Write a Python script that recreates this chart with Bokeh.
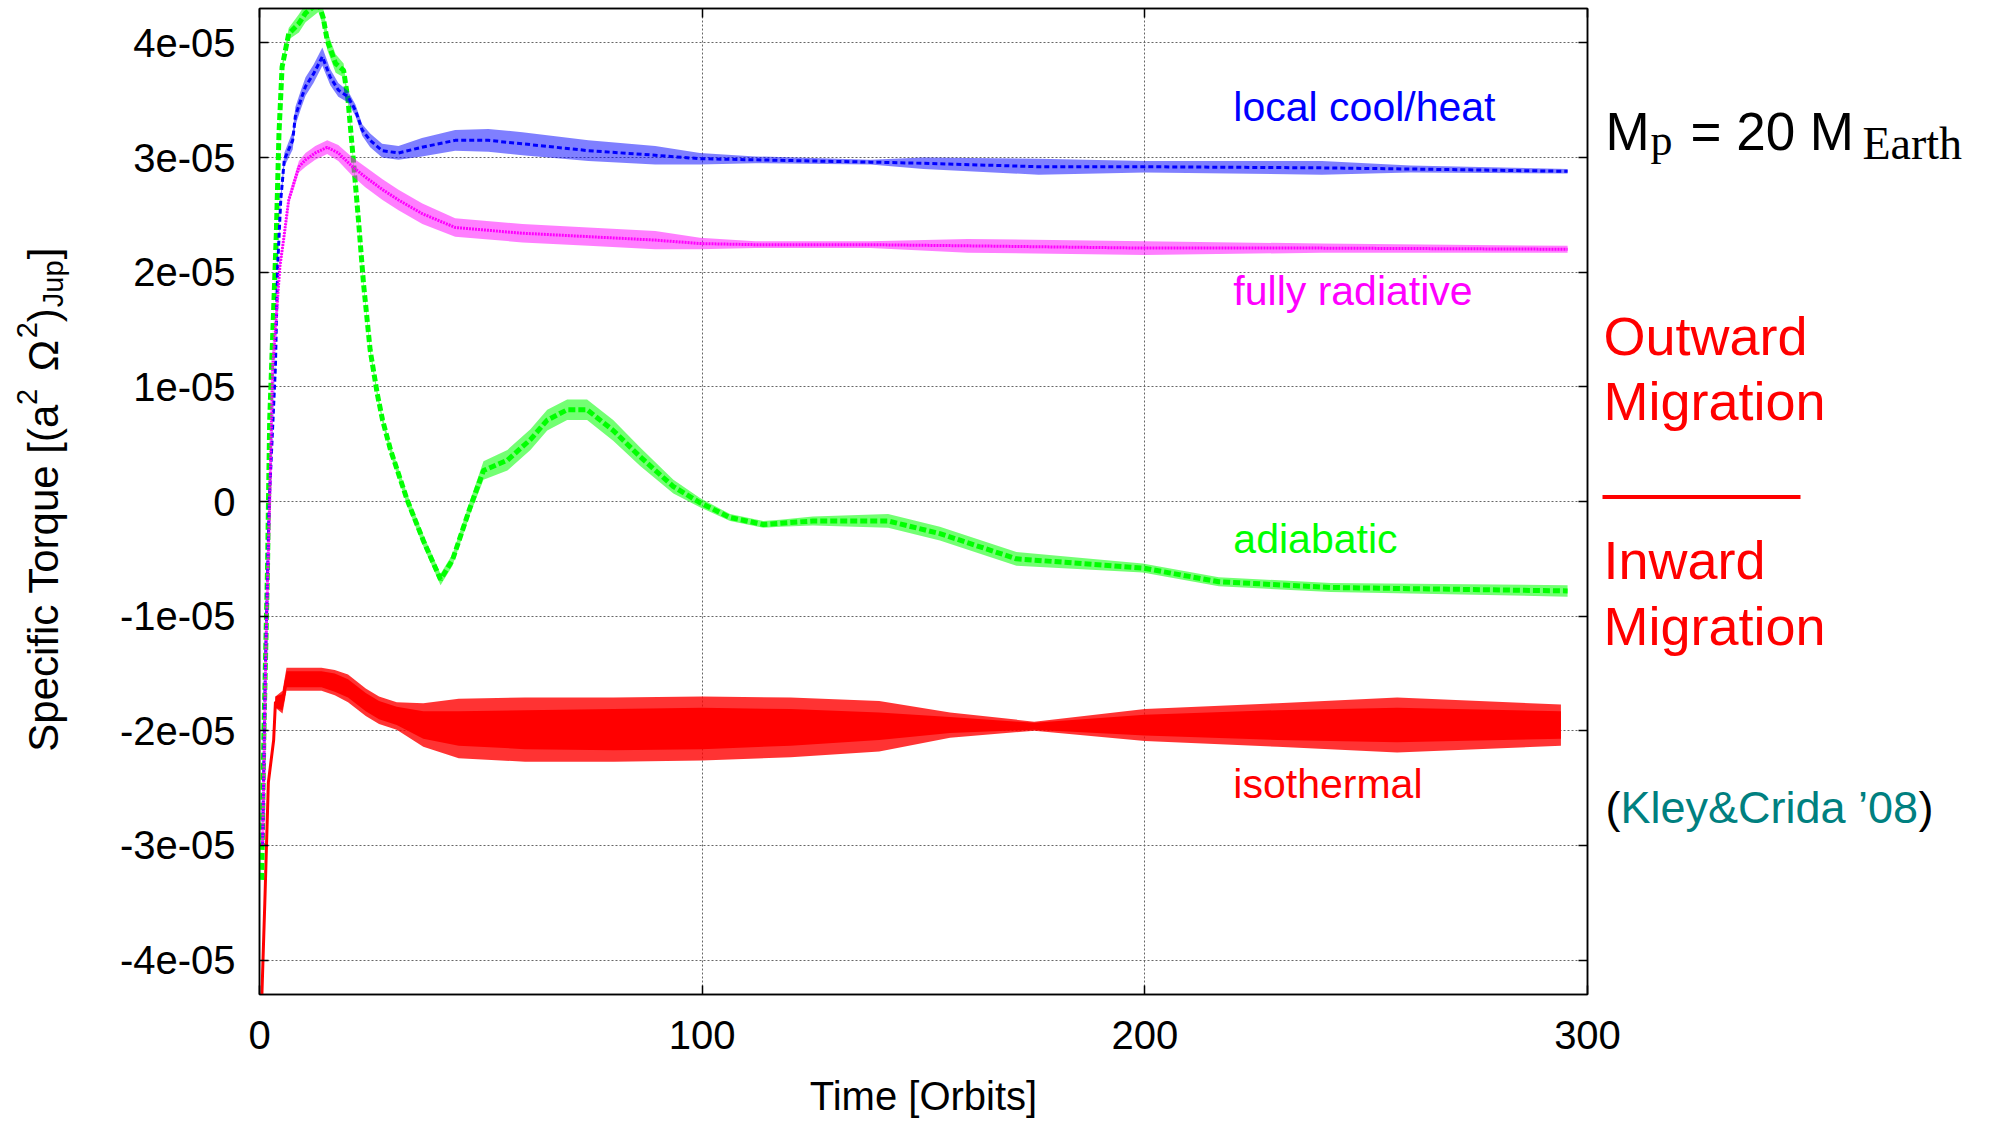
import numpy as np
from bokeh.plotting import figure
from bokeh.layouts import row
from bokeh.models import (Range1d, LinearAxis, FixedTicker, CustomJSTickFormatter, Label)
from bokeh.embed import file_html
from bokeh.resources import INLINE

# ---------------- data ----------------
x_ticks = [0, 100, 200, 300]
y_ticks = [-4e-05, -3e-05, -2e-05, -1e-05, 0.0, 1e-05, 2e-05, 3e-05, 4e-05]

# isothermal (red): time, mean torque (1e-5), half width of dense band, half width of spikes
iso_t = [0.3, 1.2, 2.0, 3.2, 3.6, 5.2, 6.1, 10, 14, 17, 20, 24, 27, 31, 37, 45, 60, 80,
         100, 120, 140, 156, 175, 200, 230, 257, 294]
iso_v = [-4.6, -3.5, -2.45, -2.08, -1.75, -1.75, -1.55, -1.55, -1.55, -1.58, -1.63, -1.75,
         -1.82, -1.87, -1.95, -1.98, -1.99, -1.99, -1.98, -1.97, -1.96, -1.95, -1.96, -1.95,
         -1.95, -1.95, -1.95]
iso_w = [0.02, 0.02, 0.03, 0.03, 0.05, 0.07, 0.07, 0.07, 0.07, 0.08, 0.08, 0.08, 0.08, 0.08,
         0.12, 0.15, 0.17, 0.18, 0.18, 0.16, 0.12, 0.07, 0.03, 0.09, 0.13, 0.15, 0.12]
iso_s = [0.02, 0.02, 0.03, 0.03, 0.05, 0.1, 0.1, 0.1, 0.1, 0.11, 0.12, 0.12, 0.12, 0.12,
         0.19, 0.26, 0.28, 0.28, 0.28, 0.26, 0.22, 0.11, 0.04, 0.14, 0.19, 0.24, 0.18]

# adiabatic (green)
adi_t = [0.5, 1.0, 1.8, 2.3, 3.0, 3.8, 4.4, 5.1, 6.6, 8.9, 10.4, 13.3, 14.4, 15.3, 17.2,
         19, 20, 21.2, 22.3, 23.5, 25, 26.6, 27.8, 29.6, 33.4, 37, 40.9, 43.6, 47.6, 50.6,
         56, 61.2, 65, 69.5, 74, 79.9, 86, 93.5, 99.5, 106.3, 113.8, 117.6, 125, 142,
         153.7, 171, 199.5, 216.7, 242, 295.5]
adi_v = [-3.3, -2.0, -0.6, 0.71, 1.47, 2.34, 3.21, 3.79, 4.08, 4.17, 4.26, 4.35, 4.22,
         4.02, 3.82, 3.76, 3.5, 2.98, 2.48, 1.9, 1.32, 0.94, 0.71, 0.45, 0.01, -0.34,
         -0.68, -0.51, -0.05, 0.27, 0.36, 0.54, 0.71, 0.8, 0.8, 0.62, 0.39, 0.13, -0.01,
         -0.14, -0.2, -0.19, -0.17, -0.17, -0.28, -0.5, -0.58, -0.7, -0.75, -0.78]
adi_w = [0.02, 0.02, 0.02, 0.02, 0.02, 0.02, 0.02, 0.03, 0.05, 0.08, 0.08, 0.08, 0.08,
         0.08, 0.08, 0.06, 0.04, 0.03, 0.03, 0.03, 0.03, 0.03, 0.03, 0.04, 0.05, 0.05,
         0.05, 0.05, 0.06, 0.08, 0.09, 0.09, 0.09, 0.09, 0.09, 0.09, 0.08, 0.06, 0.04,
         0.03, 0.03, 0.03, 0.04, 0.06, 0.06, 0.06, 0.04, 0.04, 0.04, 0.05]

# local cool/heat (blue)
loc_t = [0.7, 1.3, 2.2, 3.6, 4.1, 4.8, 5.6, 7.5, 8.1, 9.3, 10.4, 12.2, 14.2, 16, 17.8,
         20, 21.7, 23.2, 25, 27.7, 31.4, 36.7, 44.2, 51.7, 59.4, 74.3, 89.4, 99.5, 112,
         138, 150, 176, 200, 240, 260, 295.5]
loc_v = [-3.0, -1.5, 0.0, 1.18, 2.05, 2.63, 2.98, 3.15, 3.36, 3.5, 3.62, 3.73, 3.88, 3.7,
         3.59, 3.53, 3.41, 3.24, 3.15, 3.06, 3.04, 3.09, 3.15, 3.15, 3.12, 3.06, 3.02,
         2.99, 2.98, 2.96, 2.95, 2.92, 2.92, 2.91, 2.9, 2.88]
loc_w = [0.02, 0.02, 0.03, 0.03, 0.03, 0.04, 0.06, 0.08, 0.08, 0.08, 0.08, 0.08, 0.08,
         0.07, 0.06, 0.05, 0.05, 0.05, 0.06, 0.06, 0.06, 0.08, 0.09, 0.1, 0.1, 0.09, 0.08,
         0.05, 0.03, 0.02, 0.05, 0.07, 0.05, 0.06, 0.03, 0.02]

# fully radiative (magenta)
rad_t = [0.7, 1.5, 2.3, 3.0, 4.6, 5.5, 6.6, 8.9, 10.4, 12.6, 15.3, 17.8, 21, 23.9, 27.8,
         31.4, 36.8, 44.2, 59.4, 74.3, 89.4, 99.5, 112, 138, 160, 200, 240, 295.5]
rad_v = [-3.0, -1.2, 0.0, 1.18, 2.05, 2.3, 2.63, 2.92, 2.98, 3.04, 3.09, 3.04, 2.92, 2.83,
         2.72, 2.63, 2.51, 2.39, 2.34, 2.31, 2.28, 2.25, 2.24, 2.24, 2.23, 2.21, 2.21, 2.2]
rad_w = [0.02, 0.02, 0.02, 0.03, 0.03, 0.03, 0.04, 0.05, 0.06, 0.06, 0.06, 0.07, 0.08,
         0.09, 0.09, 0.09, 0.09, 0.08, 0.08, 0.08, 0.08, 0.05, 0.03, 0.03, 0.06, 0.06,
         0.04, 0.03]

SCALE = 1e-5
FONT = "Liberation Sans"
SERIF = "Liberation Serif"

# ---------------- layout geometry (page pixels) ----------------
H = 1120
LEFT_W = 109                       # left strip holding the y axis title
ML, MR, MT, MB = 150, 44, 8, 125   # main figure borders
FRAME_W, FRAME_H = 1328, 987
MAIN_W = ML + FRAME_W + MR
OVERLAP = 32                       # right strip slides over the main figure's right border
RIGHT_X0 = LEFT_W + MAIN_W - OVERLAP
RIGHT_W = 1990 - RIGHT_X0

# ---------------- main figure ----------------
p = figure(width=MAIN_W, height=H, x_range=Range1d(0, 300), y_range=Range1d(-4.3e-5, 4.3e-5),
           output_backend="svg", toolbar_location=None,
           min_border_left=ML, min_border_right=MR, min_border_top=MT, min_border_bottom=MB)
p.background_fill_color = "white"
p.border_fill_color = "white"
p.outline_line_color = "black"
p.outline_line_width = 1.5

ytick_fmt = CustomJSTickFormatter(code="""
if (Math.abs(tick) < 1e-12) { return "0"; }
var s = tick.toExponential(0);
return s.replace(/e([+-])(\\d)$/, function(m, a, b) { return "e" + a + "0" + b; });
""")

p.xaxis.ticker = FixedTicker(ticks=x_ticks)
p.yaxis.ticker = FixedTicker(ticks=y_ticks)
p.yaxis.formatter = ytick_fmt
for ax in (p.xaxis[0], p.yaxis[0]):
    ax.major_label_text_font = FONT
    ax.major_label_text_font_size = "40px"
    ax.major_label_text_color = "black"
    ax.major_tick_in = 9
    ax.major_tick_out = 0
    ax.minor_tick_in = 0
    ax.minor_tick_out = 0
    ax.axis_line_color = "black"
    ax.axis_line_width = 1.5
    ax.major_tick_line_width = 1.5
p.xaxis.major_label_standoff = 26
p.yaxis.major_label_standoff = 24
p.xaxis.axis_label = "Time [Orbits]"
p.xaxis.axis_label_text_font = FONT
p.xaxis.axis_label_text_font_size = "40px"
p.xaxis.axis_label_text_font_style = "normal"
p.xaxis.axis_label_text_color = "black"
p.xaxis.axis_label_standoff = 22

for loc in ("right", "above"):
    ax = LinearAxis(ticker=FixedTicker(ticks=(y_ticks if loc == "right" else x_ticks)),
                    formatter=CustomJSTickFormatter(code="return '';"),
                    major_tick_in=9, major_tick_out=0, minor_tick_in=0, minor_tick_out=0,
                    major_label_text_font_size="0px", major_label_standoff=0,
                    axis_line_color="black", axis_line_width=1.5, major_tick_line_width=1.5)
    p.add_layout(ax, loc)

p.xgrid.ticker = FixedTicker(ticks=x_ticks)
p.ygrid.ticker = FixedTicker(ticks=y_ticks)
for g in (p.xgrid[0], p.ygrid[0]):
    g.grid_line_color = "#666666"
    g.grid_line_dash = "2 2"
    g.grid_line_width = 1

# ---------------- series ----------------
def band(t, v, w, color, alpha):
    v = np.array(v) * SCALE
    w = np.array(w) * SCALE
    p.varea(x=t, y1=v - w, y2=v + w, fill_color=color, fill_alpha=alpha)

band(iso_t, iso_v, iso_s, "#ff0000", 0.8)
band(iso_t, iso_v, iso_w, "#ff0000", 1.0)
p.line(iso_t, np.array(iso_v) * SCALE, line_color="#ff0000", line_width=3)

band(adi_t, adi_v, adi_w, "#00ff00", 0.55)
p.line(adi_t, np.array(adi_v) * SCALE, line_color="#00ff00", line_width=5, line_dash="7 3")

band(loc_t, loc_v, loc_w, "#0000ff", 0.5)
p.line(loc_t, np.array(loc_v) * SCALE, line_color="#0000ff", line_width=3, line_dash="5 3")

band(rad_t, rad_v, rad_w, "#ff00ff", 0.5)
p.line(rad_t, np.array(rad_v) * SCALE, line_color="#ff00ff", line_width=3, line_dash="2 1")

def dlabel(x, y, text, color):
    p.add_layout(Label(x=x, y=y, text=text, text_color=color, text_font=FONT,
                       text_font_size="41px", text_baseline="alphabetic"))

dlabel(220, 3.445e-5, "local cool/heat", "#0000ff")
dlabel(220, 1.835e-5, "fully radiative", "#ff00ff")
dlabel(220, -0.325e-5, "adiabatic", "#00ff00")
dlabel(220, -2.46e-5, "isothermal", "#ff0000")

# ---------------- side strips (coordinates = page pixels, y downward) ----------------
# the row layout aligns the strips' frames with the main frame (page y 8 .. 995)
def strip(x0, w, **kw):
    f = figure(width=w, height=H, x_range=Range1d(x0, x0 + w),
               y_range=Range1d(MT + FRAME_H, MT),
               output_backend="svg", toolbar_location=None,
               min_border_left=0, min_border_right=0, min_border_top=MT, min_border_bottom=MB,
               **kw)
    f.axis.visible = False
    f.grid.visible = False
    f.outline_line_color = None
    return f

def put(f, x, y, text, color="black", size="40px", font=FONT, angle=0.0):
    f.add_layout(Label(x=x, y=y, text=text, text_color=color, text_font=font,
                       text_font_size=size, angle=angle, text_baseline="alphabetic"))

left = strip(0, LEFT_W)
left.background_fill_color = "white"
left.border_fill_color = "white"
R = np.pi / 2
BX = 43
put(left, BX, 752, "Specific Torque [(a", size="42px", angle=R)
put(left, BX - 17, 405, "2", size="29px", angle=R)
put(left, BX, 371, "\u03a9", size="42px", angle=R)
put(left, BX - 17, 338, "2", size="29px", angle=R)
put(left, BX, 322, ")", size="42px", angle=R)
put(left, BX + 9, 307, "Jup", size="29px", angle=R)
put(left, BX, 259, "]", size="42px", angle=R)

right = strip(RIGHT_X0, RIGHT_W, margin=(0, 0, 0, -OVERLAP))
right.background_fill_color = None
right.border_fill_color = None
put(right, 1605, 131, "M", size="53px")
put(right, 1650, 140, "p", size="44px", font=SERIF)
put(right, 1690, 131, "= 20 M", size="53px")
put(right, 1862, 143, "Earth", size="46px", font=SERIF)

put(right, 1603, 336, "Outward", color="#ff0000", size="54px")
put(right, 1603, 401, "Migration", color="#ff0000", size="54px")
right.segment(x0=1602, y0=497, x1=1800, y1=497, line_color="#ff0000", line_width=4)
put(right, 1603, 560, "Inward", color="#ff0000", size="54px")
put(right, 1603, 626, "Migration", color="#ff0000", size="54px")

put(right, 1605, 808, "(", size="45px")
put(right, 1620, 808, "Kley&Crida \u201908", color="#008080", size="45px")
put(right, 1918, 808, ")", size="45px")

layout = row(left, p, right, spacing=0)
open("out.html", "w").write(file_html(layout, INLINE))
